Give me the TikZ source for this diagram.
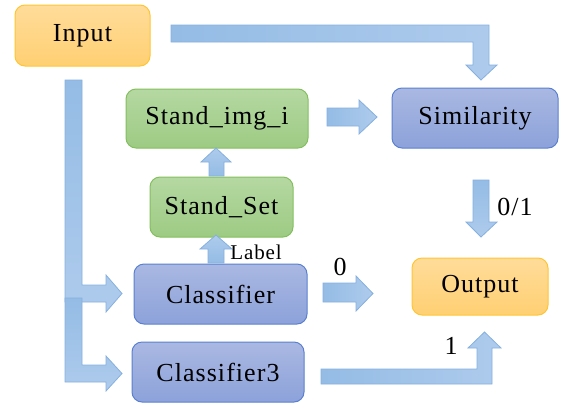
\documentclass[tikz,border=0pt]{standalone}
\usepackage{fontspec}
\setmainfont[LetterSpace=4]{Liberation Serif}
\usetikzlibrary{shadings}
\definecolor{orfill1}{HTML}{FFDC9A}
\definecolor{orfill2}{HTML}{FFD073}
\definecolor{ordraw}{HTML}{FFC533}
\definecolor{grfill1}{HTML}{B5D8A2}
\definecolor{grfill2}{HTML}{9DCB83}
\definecolor{grdraw}{HTML}{84BF5E}
\definecolor{blfill1}{HTML}{AAB8E2}
\definecolor{blfill2}{HTML}{8CA2DA}
\definecolor{bldraw}{HTML}{5A80CF}
\definecolor{arfill1}{HTML}{94BCE5}
\definecolor{arfill2}{HTML}{AECBEC}
\definecolor{ardraw}{HTML}{86B0DF}
\tikzset{
  box/.style={rounded corners=10pt, line width=1pt,
    font=\rmfamily\fontsize{26}{30}\selectfont, inner sep=0pt},
  orbox/.style={box, draw=ordraw, top color=orfill1, bottom color=orfill2},
  grbox/.style={box, draw=grdraw, top color=grfill1, bottom color=grfill2},
  blbox/.style={box, draw=bldraw, top color=blfill1, bottom color=blfill2},
  harr/.style={draw=ardraw, line width=0.8pt, left color=arfill1, right color=arfill2, line join=miter},
  varr/.style={draw=ardraw, line width=0.8pt, top color=arfill1, bottom color=arfill2, line join=miter},
  uarr/.style={draw=ardraw, line width=0.8pt, top color=arfill2, bottom color=arfill1, line join=miter},
  lbl/.style={font=\rmfamily\fontsize{26}{30}\selectfont, inner sep=0pt},
  slbl/.style={font=\rmfamily\fontsize{21}{24}\selectfont, inner sep=0pt}
}
\begin{document}
\begin{tikzpicture}[x=1pt, y=-1pt]
\useasboundingbox (0,0) rectangle (561,407);

% nodes
\node[orbox, minimum width=135pt, minimum height=61pt] (input) at (82.5,35.5) {Input};
\node[grbox, minimum width=182pt, minimum height=59pt] (simg) at (217,118.5) {Stand\_img\_i};
\node[blbox, minimum width=166pt, minimum height=60pt] (sim) at (475,118) {Similarity};
\node[grbox, minimum width=143pt, minimum height=60pt] (sset) at (221.5,207) {Stand\_Set};
\node[blbox, minimum width=173pt, minimum height=60pt] (cls) at (220.5,294) {Classifier};
\node[blbox, minimum width=172pt, minimum height=60pt] (cls3) at (218,372) {Classifier3};
\node[orbox, minimum width=136pt, minimum height=57pt] (out) at (480,286.5) {Output};

% Input -> Similarity
\path[harr] (171,25) -- (489,25) -- (489,65) -- (497,65) -- (481,80) -- (466,65) -- (473,65) -- (473,42) -- (171,42) -- cycle;

% Input -> Classifier
\path[varr] (65,80) -- (82,80) -- (82,285) -- (106,285) -- (106,275) -- (122,293.5) -- (106,312) -- (106,302) -- (65,302) -- cycle;
% Input -> Classifier3
\path[varr] (65,298) -- (82,298) -- (82,365) -- (106,365) -- (106,356) -- (122,373.5) -- (106,391) -- (106,382) -- (65,382) -- cycle;

% Stand_img_i -> Similarity
\path[harr] (327,108) -- (359,108) -- (359,100) -- (377,117) -- (359,134) -- (359,126) -- (327,126) -- cycle;

% Stand_Set -> Stand_img_i
\path[uarr] (209,176) -- (209,162) -- (201,162) -- (216,148) -- (231,162) -- (224,162) -- (224,176) -- cycle;

% Classifier -> Stand_Set
\path[uarr] (208,263) -- (208,249) -- (200,249) -- (216,235) -- (232,249) -- (224,249) -- (224,263) -- cycle;
\node[slbl] (labeltxt) at (256,252) {Label};

% Similarity -> Output
\path[varr] (473,180) -- (489,180) -- (489,222) -- (497,222) -- (481,237) -- (466,222) -- (473,222) -- cycle;
\node[lbl] (t01) at (515,207) {0/1};

% Classifier -> 0
\path[harr] (323,283) -- (356,283) -- (356,276) -- (373,293.5) -- (356,311) -- (356,302) -- (323,302) -- cycle;
\node[lbl] (t0) at (340,267) {0};

% Classifier3 -> Output
\path[harr] (321,369) -- (477,369) -- (477,348) -- (468,348) -- (484.5,332) -- (501,348) -- (492,348) -- (492,384) -- (321,384) -- cycle;
\node[lbl] (t1) at (451,346) {1};
\end{tikzpicture}
\end{document}
